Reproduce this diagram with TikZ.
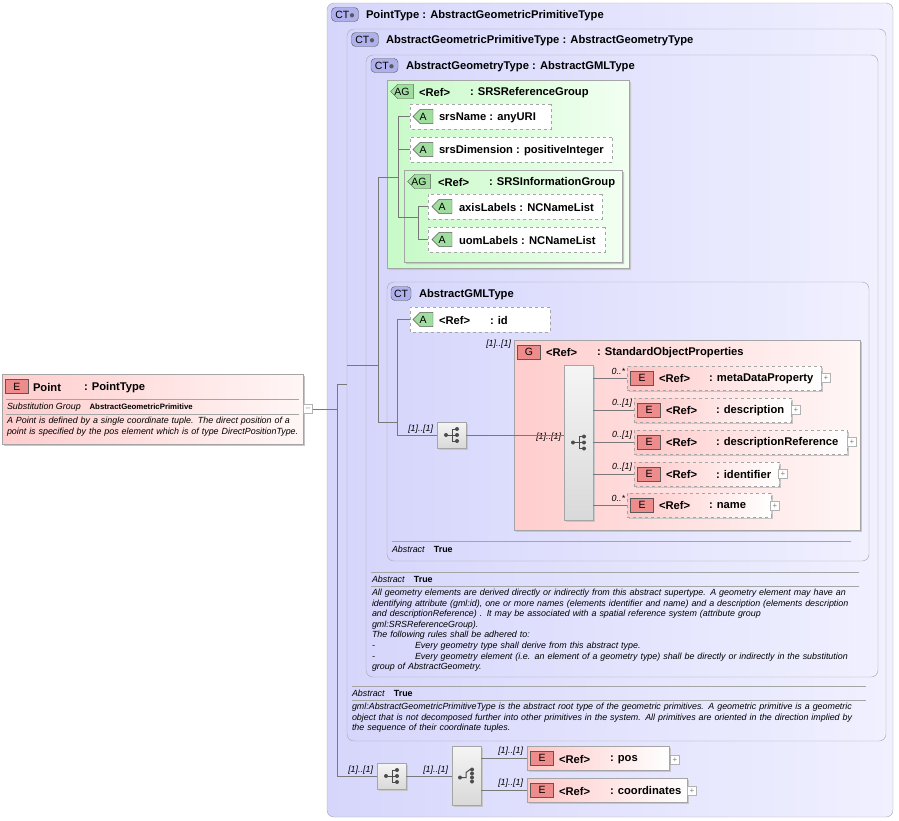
\documentclass[tikz,border=0pt]{standalone}
\usepackage{fontspec}
\setmainfont{Liberation Sans}
\usetikzlibrary{positioning, shapes.misc, shadows, calc}
\definecolor{ctleft}{RGB}{214,214,252}
\definecolor{ctright}{RGB}{240,240,255}
\definecolor{agleft}{RGB}{200,250,200}
\definecolor{agright}{RGB}{242,255,242}
\definecolor{gleft}{RGB}{255,205,205}
\definecolor{gright}{RGB}{255,246,246}
\definecolor{eleft}{RGB}{255,200,200}
\definecolor{ebadge}{RGB}{238,140,140}
\definecolor{ctbadge}{RGB}{176,176,236}
\definecolor{abadge}{RGB}{160,222,160}
\definecolor{frame}{RGB}{165,165,165}
\definecolor{wire}{RGB}{120,120,120}
\newcommand{\nm}{\fontsize{11.2}{13}\selectfont\bfseries}
\newcommand{\sm}{\fontsize{8.9}{10.6}\selectfont}
\hyphenpenalty=10000
\exhyphenpenalty=10000
\begin{document}
\begin{tikzpicture}[x=1pt, y=-1pt,
    every node/.style={inner sep=0pt, outer sep=0pt},
    shade/.style={drop shadow={shadow xshift=2pt, shadow yshift=-2pt, fill=gray!45, opacity=1}},
    box/.style={anchor=north west, draw=frame, minimum width=#1},
    ctbox/.style={box=#1, rounded corners=7pt, left color=ctleft, right color=ctright},
    agbox/.style={box=#1, chamfered rectangle, chamfered rectangle corners=north west, chamfered rectangle xsep=9pt, left color=agleft, right color=agright, shade},
    gbox/.style={box=#1, left color=gleft, right color=gright, shade},
    attr/.style={box=#1, dashed, fill=white, minimum height=25pt, chamfered rectangle, chamfered rectangle corners={north west,south west}, chamfered rectangle xsep=5pt},
    elem/.style={box=#1, minimum height=24pt, left color=eleft, right color=white, shade},
    opt/.style={dashed},
    badge/.style={draw=gray!70!black, minimum height=14pt, font=\fontsize{10.5}{11}\selectfont},
    ebdg/.style={badge, fill=ebadge, minimum width=23pt},
    abdg/.style={badge, fill=abadge, minimum width=20pt, chamfered rectangle, chamfered rectangle corners={north west,south west}, chamfered rectangle xsep=4pt},
    ctbdg/.style={badge, fill=ctbadge, rounded corners=4pt, minimum width=27pt},
    lbl/.style={anchor=west, font=\nm, yshift=-1.5pt},
    mult/.style={anchor=south east, font=\sm\itshape, inner sep=1pt},
    seq/.style={anchor=north west, draw=frame, top color=gray!8, bottom color=gray!30, shade, minimum width=29pt},
    plusbox/.style={draw=gray!60, fill=white, minimum size=9pt, font=\fontsize{8}{8}\selectfont\color{gray}},
    link/.style={draw=wire, line width=0.6pt},
    note/.style={anchor=north west, align=left, text width=#1, font=\sm\itshape}
]
\useasboundingbox (0,0) rectangle (899,820);
% nested complex types
\node[ctbox=566pt, minimum height=814pt] (pt) at (327,3) {};
\node[ctbox=539pt, minimum height=712pt] (agp) at (347,29) {};
\node[ctbox=512pt, minimum height=622pt] (ag) at (366,55) {};
\node[ctbdg] (b1) at (345,14.5) {CT\textcolor{gray!70!black}{$\bullet$}};
\node[lbl] at (366,14) {PointType : AbstractGeometricPrimitiveType};
\node[ctbdg] (b2) at (365,39.5) {CT\textcolor{gray!70!black}{$\bullet$}};
\node[lbl] at (386,39) {AbstractGeometricPrimitiveType : AbstractGeometryType};
\node[ctbdg] (b3) at (384.5,65.5) {CT\textcolor{gray!70!black}{$\bullet$}};
\node[lbl] at (406,65) {AbstractGeometryType : AbstractGMLType};
% SRS reference group
\node[agbox=242pt, minimum height=188pt] (srs) at (387,80) {};
\node[abdg, minimum width=22pt] at (402,91.5) {AG};
\node[lbl] at (419,91) {<Ref>};
\node[lbl] at (470,91) {: SRSReferenceGroup};
\node[attr=141pt] (srsname) at (410,104) {};
\node[abdg] at (423,116.5) {A};
\node[lbl] at (439,116) {srsName : anyURI};
\node[attr=202pt] (srsdim) at (410,137) {};
\node[abdg] at (423,149.5) {A};
\node[lbl] at (439,149) {srsDimension : positiveInteger};
\node[agbox=218pt, minimum height=92pt] (srsinfo) at (404,170) {};
\node[abdg, minimum width=22pt] at (419,181.5) {AG};
\node[lbl] at (438,181) {<Ref>};
\node[lbl] at (489,181) {: SRSInformationGroup};
\node[attr=174pt] (axis) at (428,194) {};
\node[abdg] at (442,206.5) {A};
\node[lbl] at (459,206) {axisLabels : NCNameList};
\node[attr=177pt] (uom) at (428,227) {};
\node[abdg] at (442,239.5) {A};
\node[lbl] at (459,239) {uomLabels : NCNameList};
% AbstractGML type
\node[ctbox=482pt, minimum height=279pt] (gml) at (387,282) {};
\node[badge, fill=ctbadge, rounded corners=4pt, minimum width=20pt] at (401,293.5) {CT};
\node[lbl] at (419,293) {AbstractGMLType};
\node[attr=140pt] (id) at (410,307) {};
\node[abdg] at (423,319.5) {A};
\node[lbl] at (439,319) {<Ref>};
\node[lbl] at (490,319) {: id};
\node[gbox=346pt, minimum height=190pt] (sop) at (514,340) {};
\node[mult] at (512,349) {[1]..[1]};
\node[ebdg] at (529,352) {G};
\node[lbl] at (546,351) {<Ref>};
\node[lbl] at (597,351) {: StandardObjectProperties};
\node[seq, minimum height=155pt] (sopseq) at (564,365) {};
% elements of the group
\node[elem=194pt, opt] (meta) at (627,366) {};
\node[ebdg] at (642,378) {E};
\node[lbl] at (659,377) {<Ref>};
\node[lbl] at (709,377) {: metaDataProperty};
\node[plusbox] at (826,378) {+};
\node[mult] at (626,376) {0..*};
\node[elem=157pt, opt] (desc) at (634,398) {};
\node[ebdg] at (649,410) {E};
\node[lbl] at (666,409) {<Ref>};
\node[lbl] at (716,409) {: description};
\node[plusbox] at (796,410) {+};
\node[mult] at (633,408) {0..[1]};
\node[elem=213pt, opt] (descref) at (634,430) {};
\node[ebdg] at (649,442) {E};
\node[lbl] at (666,441) {<Ref>};
\node[lbl] at (716,441) {: descriptionReference};
\node[plusbox] at (852,442) {+};
\node[mult] at (633,440) {0..[1]};
\node[elem=145pt, opt] (ident) at (634,462) {};
\node[ebdg] at (649,474) {E};
\node[lbl] at (666,473) {<Ref>};
\node[lbl] at (716,473) {: identifier};
\node[plusbox] at (783,474) {+};
\node[mult] at (633,472) {0..[1]};
\node[elem=144pt, opt] (name) at (627,493) {};
\node[ebdg] at (642,505) {E};
\node[lbl] at (659,504) {<Ref>};
\node[lbl] at (709,504) {: name};
\node[plusbox] at (775,506) {+};
\node[mult] at (626,503) {0..*};
\node[seq, minimum height=26pt] (gmlseq) at (437,422) {};
\node[mult] at (434,434) {[1]..[1]};
\node[mult] at (562,442) {[1]..[1]};
% abstract notes
\draw[frame] (392,541) -- (851,541);
\node[anchor=west, font=\sm] at (392,549) {\textit{Abstract}\quad\textbf{True}};
\draw[frame] (371,572) -- (859,572) (371,586) -- (859,586);
\node[anchor=west, font=\sm] at (372,579) {\textit{Abstract}\quad\textbf{True}};
\node[note=486pt] at (372,589) {All geometry elements are derived directly or indirectly from this abstract supertype. A geometry element may have an identifying attribute (gml:id), one or more names (elements identifier and name) and a description (elements description and descriptionReference) . It may be associated with a spatial reference system (attribute group\\gml:SRSReferenceGroup).\\The following rules shall be adhered to:\\-\hspace{4.5em}Every geometry type shall derive from this abstract type.\\-\hspace{4.5em}Every geometry element (i.e. an element of a geometry type) shall be directly or indirectly in the substitution group of AbstractGeometry.};
\draw[frame] (352,686) -- (866,686) (352,700) -- (866,700);
\node[anchor=west, font=\sm] at (352,693) {\textit{Abstract}\quad\textbf{True}};
\node[note=510pt] at (352,703) {gml:AbstractGeometricPrimitiveType is the abstract root type of the geometric primitives. A geometric primitive is a geometric object that is not decomposed further into other primitives in the system. All primitives are oriented in the direction implied by the sequence of their coordinate tuples.};
% bottom sequence and choice
\node[seq, minimum height=26pt] (ptseq) at (377,763) {};
\node[mult] at (374,775) {[1]..[1]};
\node[seq, minimum height=59pt] (choice) at (452,746) {};
\node[mult] at (449,775) {[1]..[1]};
\node[elem=142pt] (pos) at (527,746) {};
\node[ebdg] at (542,758) {E};
\node[lbl] at (559,758) {<Ref>};
\node[lbl] at (610,758) {: pos};
\node[plusbox] at (675,760) {+};
\node[mult] at (524,756) {[1]..[1]};
\node[elem=160pt] (coord) at (527,778) {};
\node[ebdg] at (542,790) {E};
\node[lbl] at (559,790) {<Ref>};
\node[lbl] at (610,789) {: coordinates};
\node[plusbox] at (692,791) {+};
\node[mult] at (524,788) {[1]..[1]};
% compositor icons
\foreach \c/\h in {gmlseq/26, sopseq/155, ptseq/26} {
  \coordinate (ic) at ($(\c.north west)+(15,\h/2)$);
  \fill[black!70] ($(ic)+(-6,0)$) circle (2pt);
  \draw[black!70, line width=1pt] ($(ic)+(-6,0)$) -- ($(ic)+(0,0)$) ($(ic)+(0,-6)$) -- ($(ic)+(0,6)$);
  \foreach \d in {-6,0,6} {
    \draw[black!70, line width=1pt] ($(ic)+(0,\d)$) -- ($(ic)+(5,\d)$);
    \fill[black!70] ($(ic)+(5,\d)$) circle (2pt);
  }
}
\coordinate (ic) at ($(choice.north west)+(15,29.5)$);
\fill[black!70] ($(ic)+(-7,2)$) circle (2pt);
\draw[black!70, line width=1pt] ($(ic)+(-7,2)$) -- ($(ic)+(-1,2)$) -- ($(ic)+(-1,-3)$) -- ($(ic)+(3,-6)$);
\foreach \d in {-6,-2,2,6} \fill[black!70] ($(ic)+(5,\d)$) circle (2pt);
% Point element
\node[box=301pt, minimum height=70pt, left color=gleft, right color=gright, shade] (point) at (2,374) {};
\node[ebdg] at (17,386.5) {E};
\node[lbl] at (33,386) {Point};
\node[lbl] at (84,386) {: PointType};
\draw[frame] (6,399) -- (299,399) (6,414) -- (299,414);
\node[anchor=west, font=\sm] at (7,407) {\textit{Substitution Group}\quad\textbf{\fontsize{7.8}{9}\selectfont AbstractGeometricPrimitive}};
\node[note=296pt] at (7,417) {A Point is defined by a single coordinate tuple. The direct position of a point is specified by the pos element which is of type DirectPositionType.};
\node[plusbox] (minus) at (308,409) {--};
% connectors
\draw[link] (minus.east) -- (337,409);
\draw[link] (337,384) -- (337,776) -- (ptseq.west |- 0,776);
\draw[link] (337,384) -- (agp.west |- 0,384);
\draw[link] (347,365) -- (378,365);
\draw[link] (378,177) -- (378,422) -- (397,422);
\draw[link] (378,177) -- (398,177);
\draw[link] (398,116) -- (srsname.west |- 0,116);
\draw[link] (398,116) -- (398,217) -- (418,217);
\draw[link] (398,149) -- (srsdim.west |- 0,149);
\draw[link] (418,206) -- (418,239) -- (uom.west |- 0,239);
\draw[link] (418,206) -- (axis.west |- 0,206);
\draw[link] (397,319) -- (id.west |- 0,319);
\draw[link] (397,319) -- (397,435) -- (gmlseq.west |- 0,435);
\draw[link] (gmlseq.east |- 0,435) -- (sopseq.west |- 0,435);
\draw[link] (sopseq.east |- 0,378) -- (meta.west |- 0,378);
\draw[link] (sopseq.east |- 0,410) -- (desc.west |- 0,410);
\draw[link] (sopseq.east |- 0,442) -- (descref.west |- 0,442);
\draw[link] (sopseq.east |- 0,474) -- (ident.west |- 0,474);
\draw[link] (sopseq.east |- 0,505) -- (name.west |- 0,505);
\draw[link] (ptseq.east |- 0,776) -- (choice.west |- 0,776);
\draw[link] (choice.east |- 0,758) -- (pos.west |- 0,758);
\draw[link] (choice.east |- 0,790) -- (coord.west |- 0,790);
\end{tikzpicture}
\end{document}
